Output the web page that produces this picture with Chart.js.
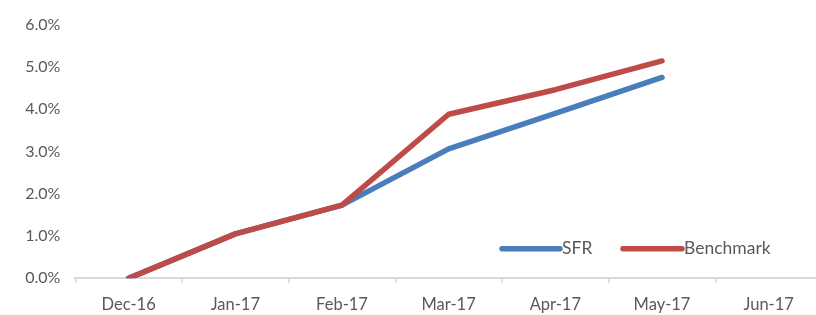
<!DOCTYPE html>
<html>
<head>
<meta charset="utf-8">
<script src="https://cdn.jsdelivr.net/npm/chart.js@4"></script>
<style>
html,body{margin:0;padding:0;background:#fff;overflow:hidden;}
#wrap{width:824px;height:315px;}
</style>
</head>
<body>
<div id="wrap"><canvas id="c" width="824" height="315"></canvas></div>
<script>
const categories = ['Dec-16','Jan-17','Feb-17','Mar-17','Apr-17','May-17','Jun-17'];
const sfrValues = [0, 1.05, 1.73, 3.06, 3.90, 4.75, null];
const benchmarkValues = [0, 1.05, 1.73, 3.88, 4.46, 5.14, null];
const yTicks = [0, 1, 2, 3, 4, 5, 6];
const seriesNames = ['SFR', 'Benchmark'];

const FONT = 'Lato, "Open Sans", sans-serif';
const TEXT = '#595959';
const BLUE = '#4A7EBB';
const RED = '#BE4B48';

const legendPlugin = {
  id: 'innerLegend',
  afterDraw(chart) {
    const ctx = chart.ctx;
    const ca = chart.chartArea;
    const y = ca.bottom - 29.5;
    const items = [
      {x0: 502, x1: 560, tx: 562, color: BLUE, label: chart.data.datasets[0].label},
      {x0: 623, x1: 682, tx: 684, color: RED, label: chart.data.datasets[1].label}
    ];
    ctx.save();
    items.forEach(it => {
      ctx.beginPath();
      ctx.lineWidth = 5.5;
      ctx.lineCap = 'round';
      ctx.strokeStyle = it.color;
      ctx.moveTo(it.x0, y);
      ctx.lineTo(it.x1, y);
      ctx.stroke();
      ctx.fillStyle = TEXT;
      ctx.font = '17.5px ' + FONT;
      ctx.textBaseline = 'middle';
      ctx.textAlign = 'left';
      ctx.fillText(it.label, it.tx, y);
    });
    ctx.restore();
  }
};

new Chart(document.getElementById('c'), {
  type: 'line',
  data: {
    labels: categories,
    datasets: [
      {label: seriesNames[0], data: sfrValues, borderColor: BLUE, backgroundColor: BLUE, order: 1},
      {label: seriesNames[1], data: benchmarkValues, borderColor: RED, backgroundColor: RED, order: 0}
    ]
  },
  options: {
    responsive: false,
    animation: false,
    devicePixelRatio: 1,
    layout: {padding: {top: 20.5, right: 2, left: 0, bottom: 0}},
    elements: {
      line: {borderWidth: 5.5, tension: 0, borderCapStyle: 'round', borderJoinStyle: 'round'},
      point: {radius: 0, hoverRadius: 0}
    },
    plugins: {legend: {display: false}, tooltip: {enabled: false}},
    scales: {
      x: {
        offset: true,
        grid: {display: true, offset: true, drawOnChartArea: false, drawTicks: true, tickLength: 5, color: '#d9d9d9', lineWidth: 1.5},
        border: {display: true, color: '#d9d9d9', width: 2},
        ticks: {color: TEXT, font: {family: FONT, size: 16.5}, padding: 11, maxRotation: 0, autoSkip: false},
        afterFit(scale) { scale.height = 36.7; }
      },
      y: {
        min: 0, max: 6,
        afterBuildTicks(scale) { scale.ticks = yTicks.map(v => ({value: v})); },
        grid: {display: false, drawTicks: false},
        border: {display: false},
        ticks: {color: TEXT, font: {family: FONT, size: 16}, padding: 15, callback: v => v.toFixed(1) + '%'},
        afterFit(scale) { scale.width = 75.3; }
      }
    }
  },
  plugins: [legendPlugin]
});
</script>
</body>
</html>
